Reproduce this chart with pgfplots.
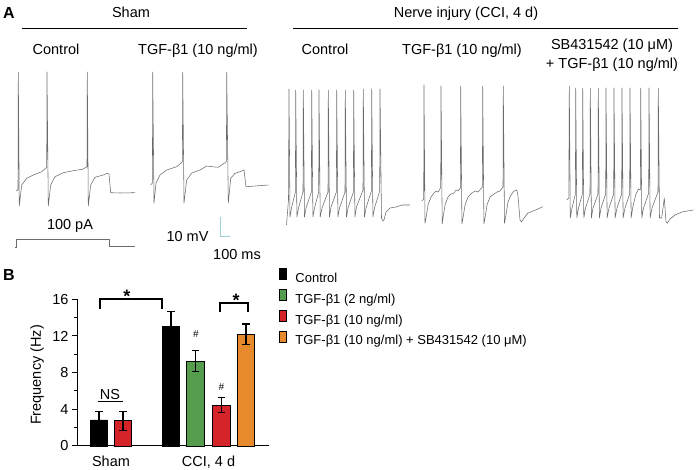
\documentclass[border=0pt]{standalone}
\usepackage{pgfplots}
\pgfplotsset{compat=1.18}
\usepackage{fontspec}
\setmainfont{Liberation Sans}
\newcommand\fs[1]{\fontsize{#1}{#1}\selectfont}
\definecolor{cgreen}{HTML}{559C4C}
\definecolor{cred}{HTML}{D4242A}
\definecolor{corange}{HTML}{E68A2C}
\definecolor{scalebar}{HTML}{9CCFD6}
\begin{document}
\begin{tikzpicture}
\useasboundingbox (0,0) rectangle (699pt,470pt);
% panel A: traces in pixel coordinates
\begin{axis}[
    at={(0pt,0pt)}, anchor=south west,
    scale only axis, width=699pt, height=470pt,
    xmin=0, xmax=699, ymin=0, ymax=470, y dir=reverse,
    hide axis, clip=false,
    tr/.style={black!58, line width=0.55pt, line join=round, mark=none},
]
\node[anchor=base, font=\fs{16}\bfseries] at (axis cs:9,18.5) {A};
\node[anchor=base, font=\fs{16}\bfseries] at (axis cs:9,281) {B};
\node[anchor=base, font=\fs{14.5}] at (axis cs:131,17.3) {Sham};
\node[anchor=base, font=\fs{14.5}] at (axis cs:466,17.3) {Nerve injury (CCI, 4 d)};
\draw[line width=1.2pt] (axis cs:22,28.3) -- (axis cs:247,28.3);
\draw[line width=1.2pt] (axis cs:293,28.3) -- (axis cs:678,28.3);
\node[anchor=base, font=\fs{14.5}] at (axis cs:56,54.3) {Control};
\node[anchor=base, font=\fs{14.5}] at (axis cs:198,54.3) {TGF-β1 (10 ng/ml)};
\node[anchor=base, font=\fs{14.5}] at (axis cs:325,55) {Control};
\node[anchor=base, font=\fs{14.5}] at (axis cs:462,55) {TGF-β1 (10 ng/ml)};
\node[anchor=base, font=\fs{14.5}] at (axis cs:612,50) {SB431542 (10 μM)};
\node[anchor=base, font=\fs{14.5}] at (axis cs:612,68.3) {+ TGF-β1 (10 ng/ml)};
\node[anchor=base, font=\fs{14.5}] at (axis cs:70,230) {100 pA};
\node[anchor=base, font=\fs{14.5}] at (axis cs:187.5,241.7) {10 mV};
\node[anchor=base, font=\fs{14.5}] at (axis cs:237,260) {100 ms};
% sham control
\addplot[tr] coordinates {
(16,191) (18,190) (18.3,72) (19.3,206) (21.7,185) (26.7,178.3) (33.3,175)
(41.7,171.7) (46.7,167.3) (47,72) (48.3,206) (50.7,185) (55,176.7) (63.3,172.7)
(73.3,170.7) (82.7,169.3) (87,166.7) (87.3,72) (88.3,206) (90.7,185) (95,177.3)
(103.3,175) (107.3,173.3) (109,174) (110.7,192.7) (120,193) (135,192.7)
};
% sham TGF
\addplot[tr] coordinates {
(150.7,185) (152.4,183) (152.7,72) (154,203) (156,183) (160,175) (166.7,170)
(176.7,166.7) (182.4,161.7) (182.7,72) (184,203) (186.7,180) (191.7,173)
(200,170) (206.7,166) (211.7,166.7) (218.3,167.3) (226.4,161.7) (226.7,72)
(228.3,203) (230.7,178.3) (235,173.3) (240,171.7) (244,170) (246,186.7)
(255,186) (268.3,185)
};
% stimulus step
\addplot[tr] coordinates {(15,247) (16,247) (16,239) (109,239) (109,246) (135,246)};
% scale bar
\addplot[scalebar, line width=1pt, mark=none] coordinates {(220,217) (220,237) (230,237)};
% CCI control
\addplot[tr] coordinates {
(286.5,225) (288.5,200) (289,89) (290,217) (291.5,208) (295.4,192) (295.7,90)
(296.9,217) (298.5,208) (303,192) (303.3,90) (304.5,217) (306,208) (311.4,192)
(311.7,90) (312.9,217) (314.5,208) (318.7,192) (319,90) (320.2,217) (322,208)
(328,192) (328.3,90) (329.5,217) (331,207) (336.4,192) (336.7,90) (337.9,217)
(339.5,208) (345,192) (345.3,90) (346.5,217) (348,208) (353.4,192) (353.7,90)
(354.9,217) (356.5,207) (363,190) (363.3,89) (364.5,217) (366,208) (371.4,191)
(371.7,89) (372.9,217) (374.5,208) (379.7,191) (380,89) (381.5,218) (383,221)
(384,220) (386,212) (390,208) (396,207) (402,205) (410,205)
};
% CCI TGF
\addplot[tr] coordinates {
(421.7,201) (423.7,199) (424,85) (425,223) (426,218) (428,205) (431,197)
(434,193) (436,191) (438,192) (439.5,190) (440.7,187) (441,86) (442.2,224)
(443,218) (445,205) (448,197) (451,194) (454,193) (456,190) (458,191)
(460.4,188) (460.7,86) (461.9,224) (463,218) (465,205) (468,197) (472,193)
(475,191) (478,192) (482.4,187) (482.7,86) (483.9,224) (485,218) (487,205)
(490,197) (494,194) (497,192) (500,191) (503,187) (503.3,86) (504.5,223)
(506,215) (508,202) (511,195) (514,191) (516.7,190) (518,196) (520,220)
(521.5,222) (524,218) (528,213) (533,211) (538,209) (542.7,206.7)
};
% CCI SB + TGF
\addplot[tr] coordinates {
(566.7,200) (568.8,198) (569.3,86) (570.3,218) (572,208) (575.4,194) (575.7,88)
(576.8,218) (578.5,208) (582.4,194) (582.7,88) (583.8,218) (585.5,208) (590,194)
(590.3,88) (591.4,218) (593,208) (598,194) (598.3,88) (599.4,218) (601,208)
(605.7,194) (606,88) (607.1,218) (609,208) (613.7,194) (614,88) (615.1,218)
(617,208) (621.7,194) (622,88) (623.1,218) (625,208) (629.7,194) (630,88)
(631.1,218) (633,206) (636,194) (638.5,189) (640.4,190) (640.7,88) (641.8,218)
(643.5,208) (648.7,193) (649,88) (650.1,218) (652,208) (658,192) (658.3,88)
(659.5,218) (661.7,218) (664.3,198) (666,221.7) (667.3,223.3) (670,219)
(675,215) (682,212) (693.3,210)
};
\end{axis}
% panel B: bar chart
\begin{axis}[
    at={(77pt,24pt)}, anchor=south west,
    scale only axis, width=192pt, height=146.7pt,
    xmin=0, xmax=192, ymin=0, ymax=16,
    clip=false,
    axis x line=bottom, axis y line=left,
    axis line style={-, line width=1pt},
    ytick={0,4,8,12,16}, minor ytick={2,6,10,14},
    tick align=outside, major tick length=5pt, minor tick length=3pt,
    tick style={black, line width=1pt},
    xtick={34,131.5}, xticklabels={Sham, {CCI, 4 d}},
    major x tick style={draw=none},
    xticklabel style={yshift=-1pt},
    /pgf/number format/assume math mode=true,
    tick label style={font=\fs{14.5}},
    ylabel={Frequency (Hz)},
    ylabel style={font=\fs{14.5}, at={(axis description cs:-0.208,0.484)}, anchor=center},
    legend style={at={(1.033,1.225)}, anchor=north west, draw=none, fill=none,
        font=\fs{13}, row sep=3.4pt,
        nodes={inner sep=0pt, text height=10pt, text depth=3pt},
        /tikz/every odd column/.append style={column sep=9.3pt}},
    legend cell align=left,
    sq/.style={legend image code/.code={
        \draw[##1, draw=black, line width=0.6pt] (0pt,-0.5pt) rectangle (7pt,10.5pt);}},
    eb/.style={error bars/.cd, y dir=both, y explicit,
        error bar style={line width=1.2pt, black},
        error mark options={rotate=90, mark size=3.9pt, line width=1.2pt, black}},
]
\addplot[ybar, bar width=17.5, bar shift=0pt, fill=black, draw=black, line width=0.8pt, sq, eb]
    coordinates {(22,2.84) +- (0,0.9) (94,13.0) +- (0,1.65)};
\addlegendentry{Control}
\addplot[ybar, bar width=17.5, bar shift=0pt, fill=cgreen, draw=black, line width=0.8pt, sq, eb]
    coordinates {(118.5,9.27) +- (0,1.12)};
\addlegendentry{TGF-β1 (2 ng/ml)}
\addplot[ybar, bar width=17.5, bar shift=0pt, fill=cred, draw=black, line width=0.8pt, sq, eb]
    coordinates {(46,2.75) +- (0,1.05) (144.5,4.47) +- (0,0.85)};
\addlegendentry{TGF-β1 (10 ng/ml)}
\addplot[ybar, bar width=17.5, bar shift=0pt, fill=corange, draw=black, line width=0.8pt, sq, eb]
    coordinates {(169,12.2) +- (0,1.1)};
\addlegendentry{TGF-β1 (10 ng/ml) + SB431542 (10 μM)}
% significance marks
\draw[line width=1.2pt] (axis cs:23,14.94) -- (axis cs:23,16.03) -- (axis cs:85,16.03) -- (axis cs:85,14.94);
\draw[line width=1.2pt] (axis cs:143,14.6) -- (axis cs:143,15.6) -- (axis cs:171,15.6) -- (axis cs:171,14.6);
\draw[line width=1.2pt] (axis cs:21,4.83) -- (axis cs:46,4.83);
\node[anchor=base, font=\fs{18}\bfseries] at (axis cs:50,15.67) {*};
\node[anchor=base, font=\fs{18}\bfseries] at (axis cs:159,15.2) {*};
\node[anchor=base, font=\fs{14.5}] at (axis cs:33,5.1) {NS};
\node[anchor=base, font=\fs{10}] at (axis cs:118.8,11.8) {\#};
\node[anchor=base, font=\fs{10}] at (axis cs:144.5,6.0) {\#};
\end{axis}
\end{tikzpicture}
\end{document}
